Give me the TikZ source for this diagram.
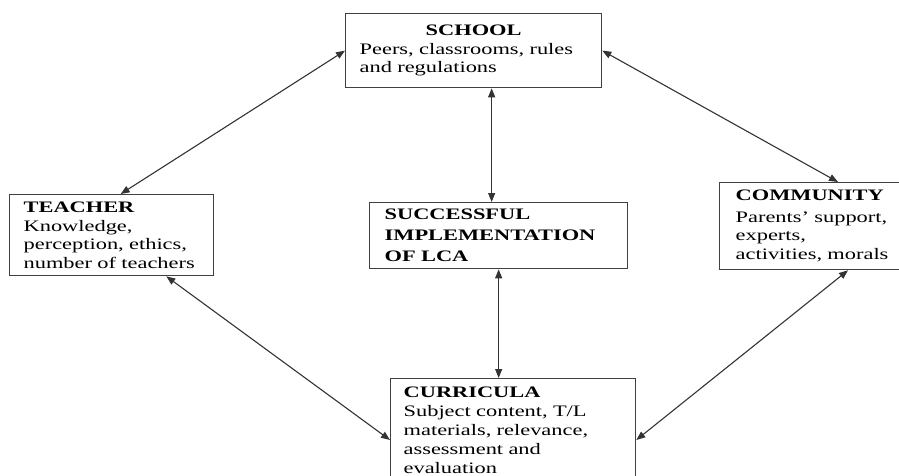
\documentclass[tikz,border=0pt]{standalone}
\usepackage{fontspec}
\setmainfont{Liberation Serif}[FakeStretch=1.4,BoldFeatures={FakeStretch=1.4}]
\usetikzlibrary{arrows.meta}
\begin{document}
\begin{tikzpicture}[x=1pt,y=-1pt,font=\fontsize{16}{18.5}\selectfont,
  bx/.style={draw=black!75,line width=1.3pt,anchor=north west,align=left,inner xsep=14pt,inner ysep=5pt},
  lk/.style={draw=black!80,line width=1.1pt,{Triangle[length=9pt,width=7pt]}-{Triangle[length=9pt,width=7pt]}}]
  \useasboundingbox (0,0) rectangle (899,475);
  % the five factors
  \node[bx,text width=228pt,minimum height=74pt] (school) at (345,13){\hfill\textbf{SCHOOL}\hfill\null\\Peers, classrooms, rules\\and regulations};
  \node[bx,text width=176pt,minimum height=81pt] (teacher) at (9,194){\textbf{TEACHER}\\Knowledge,\\perception, ethics,\\number of teachers};
  \node[bx,inner xsep=15pt,text width=228pt,minimum height=66pt,font=\fontsize{16}{21}\selectfont] (success) at (369,202){\textbf{SUCCESSFUL}\\\textbf{IMPLEMENTATION}\\\textbf{OF LCA}};
  \node[bx,inner xsep=16pt,text width=168pt,minimum height=87pt] (community) at (719,182){\textbf{COMMUNITY}\\[3pt]Parents' support,\\experts,\\activities, morals};
  \node[bx,inner xsep=13pt,inner ysep=8pt,text width=219pt,font=\fontsize{16}{19}\selectfont] (curricula) at (390,378){\textbf{CURRICULA}\\Subject content, T/L\\materials, relevance,\\assessment and\\evaluation};
  % two-way links
  \draw[lk] (school.west) -- ([xshift=9pt]teacher.north);
  \draw[lk] (school.east) -- ([xshift=119pt]community.north west);
  \draw[lk] ([xshift=18pt]school.south) -- ([xshift=18pt]school.south |- success.north);
  \draw[lk] (success.south) -- (success.south |- curricula.north);
  \draw[lk] ([xshift=-48pt]teacher.south east) -- ([yshift=-62pt]curricula.north west);
  \draw[lk] ([xshift=129pt]community.south west) -- ([yshift=-62pt]curricula.north east);
\end{tikzpicture}
\end{document}
